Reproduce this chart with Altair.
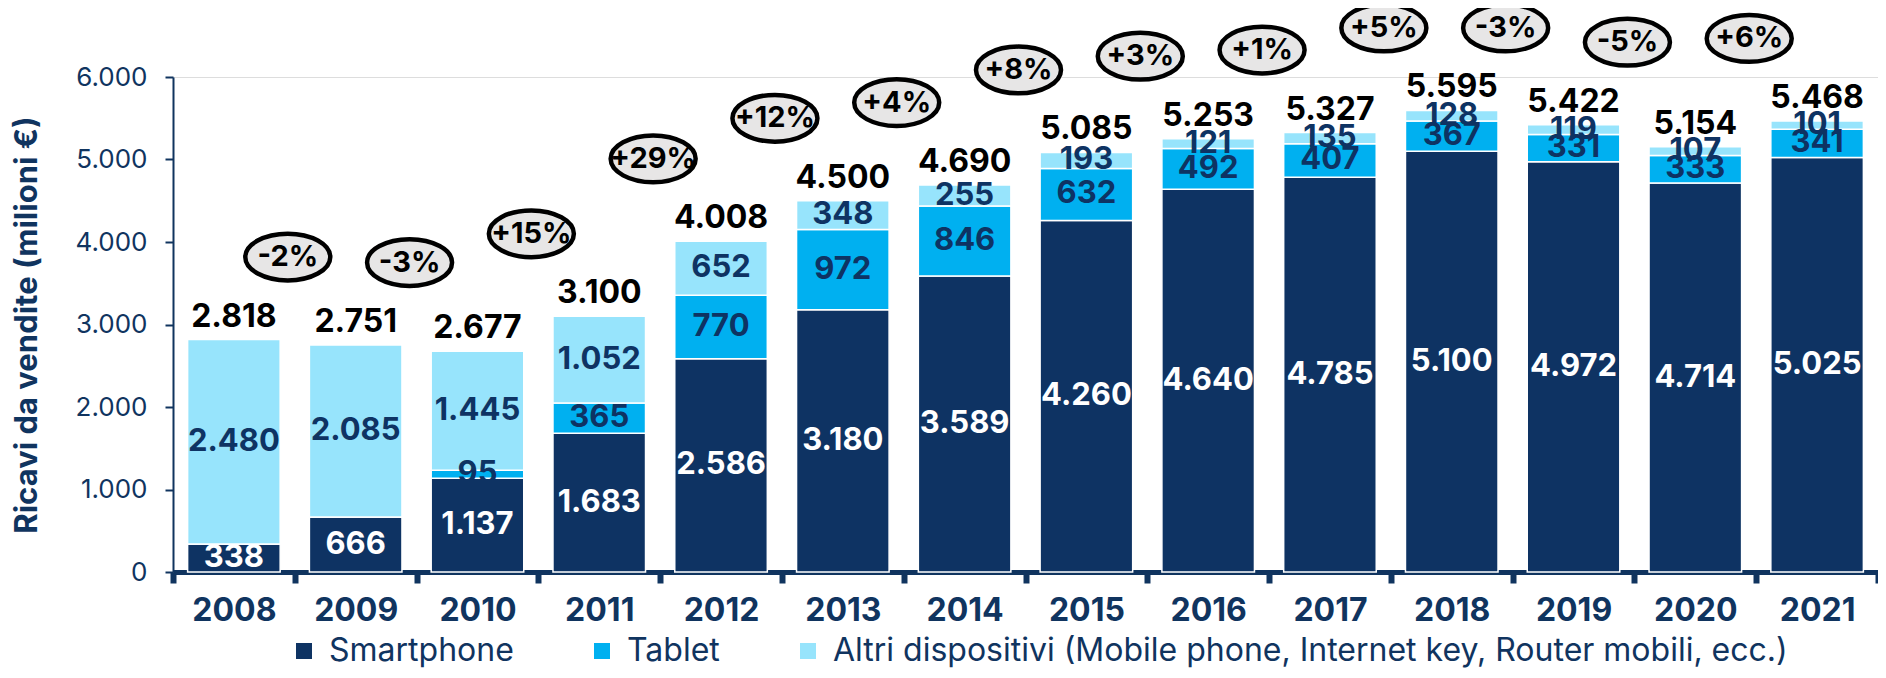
import altair as alt
import pandas as pd

years = ["2008", "2009", "2010", "2011", "2012", "2013", "2014",
         "2015", "2016", "2017", "2018", "2019", "2020", "2021"]
smartphone = [338, 666, 1137, 1683, 2586, 3180, 3589, 4260, 4640, 4785, 5100, 4972, 4714, 5025]
tablet = [0, 0, 95, 365, 770, 972, 846, 632, 492, 407, 367, 331, 333, 341]
altri = [2480, 2085, 1445, 1052, 652, 348, 255, 193, 121, 135, 128, 119, 107, 101]
totals = [2818, 2751, 2677, 3100, 4008, 4500, 4690, 5085, 5253, 5327, 5595, 5422, 5154, 5468]
growth = ["-2%", "-3%", "+15%", "+29%", "+12%", "+4%", "+8%", "+3%", "+1%",
          "+5%", "-3%", "-5%", "+6%"]
series = ["Smartphone", "Tablet",
          "Altri dispositivi (Mobile phone, Internet key, Router mobili, ecc.)"]
colors = ["#0E3363", "#00B0F0", "#97E4FC"]
label_colors = ["#FFFFFF", "#0E3363", "#0E3363"]

NAVY = "#10345F"
FONT = "Inter"


def it(n):
    return f"{n:,}".replace(",", ".")


rows = []
for i, y in enumerate(years):
    base = 0
    for s, vals, lc in zip(series, [smartphone, tablet, altri], label_colors):
        v = vals[i]
        rows.append({"year": y, "series": s, "value": v, "y0": base, "y1": base + v,
                     "mid": base + v / 2, "label": it(v), "lcolor": lc})
        base += v
df = pd.DataFrame(rows)

df_tot = pd.DataFrame({"year": years, "total": totals, "label": [it(t) for t in totals]})

df_g = pd.DataFrame({
    "year": years[:-1],
    "text": growth,
    "level": [max(totals[i], totals[i + 1]) + 1000 for i in range(len(growth))],
})

x_enc = alt.X("year:N", sort=years,
              scale=alt.Scale(paddingInner=0, paddingOuter=0),
              axis=alt.Axis(title=None, labelAngle=0, labelFont=FONT, labelFontSize=32,
                            labelFontWeight="bold", labelColor=NAVY, labelPadding=12,
                            tickBand="extent", tickColor=NAVY, tickWidth=6, tickSize=11,
                            domainColor=NAVY, domainWidth=5))
y_title = "Ricavi da vendite (milioni €)"
y_scale = alt.Scale(domain=[0, 6000], nice=False, zero=True)

bars = alt.Chart(df).mark_bar(width=alt.RelativeBandSize(0.76), stroke="white",
                              strokeWidth=1.5).encode(
    x=x_enc,
    y=alt.Y("y0:Q", scale=y_scale, title=y_title,
            axis=alt.Axis(values=[0, 1000, 2000, 3000, 4000, 5000, 6000],
                          labelExpr="replace(format(datum.value, ','), ',', '.')",
                          grid=False, labelFont=FONT, labelFontSize=26, labelColor=NAVY,
                          labelPadding=18, tickColor=NAVY, tickWidth=2, tickSize=8,
                          domainColor=NAVY, domainWidth=2,
                          titleFont=FONT, titleFontSize=31, titleFontWeight="bold",
                          titleColor=NAVY, titleAngle=270, titleX=-146, titleY=247.5,
                          titleAlign="center", titleBaseline="middle")),
    y2="y1:Q",
    color=alt.Color("series:N", scale=alt.Scale(domain=series, range=colors),
                    legend=alt.Legend(title=None, orient="none", direction="horizontal",
                                      legendX=115, legendY=558, symbolType="square",
                                      symbolSize=256, symbolStrokeWidth=0,
                                      labelFont=FONT, labelFontSize=32, labelColor=NAVY,
                                      labelOffset=9, columnPadding=72,
                                      labelLimit=2000)),
)

seg_text = alt.Chart(df).transform_filter("datum.value > 0").mark_text(
    font=FONT, fontSize=31, fontWeight="bold", baseline="middle").encode(
    x=alt.X("year:N", sort=years),
    y=alt.Y("mid:Q", title=y_title),
    text="label:N",
    color=alt.Color("lcolor:N", scale=None),
)

tot_text = alt.Chart(df_tot).mark_text(
    font=FONT, fontSize=32, fontWeight="bold", baseline="alphabetic", dy=-13,
    color="#000000").encode(
    x=alt.X("year:N", sort=years),
    y=alt.Y("total:Q", title=y_title),
    text="label:N",
)

ELLIPSE = "M -1 0 A 1 0.55 0 1 0 1 0 A 1 0.55 0 1 0 -1 0 Z"
ellipses = alt.Chart(df_g).mark_point(
    shape=ELLIPSE, size=7225, filled=True, fill="#E7E6E6", stroke="#000000",
    strokeWidth=4.5, opacity=1, fillOpacity=1, xOffset=-7).encode(
    x=alt.X("year:N", sort=years, bandPosition=1),
    y=alt.Y("level:Q", title=y_title),
)
g_text = alt.Chart(df_g).mark_text(
    font=FONT, fontSize=29, fontWeight="bold", baseline="middle", dx=-7,
    color="#000000").encode(
    x=alt.X("year:N", sort=years, bandPosition=1),
    y=alt.Y("level:Q", title=y_title),
    text="text:N",
)

chart = alt.layer(bars, seg_text, tot_text, ellipses, g_text).properties(
    width=1705, height=495,
    autosize=alt.AutoSizeParams(type="none"),
    padding={"left": 165, "top": 69, "right": 0, "bottom": 98},
    background="white",
).configure_view(stroke=None).configure(font=FONT)

chart.save("out.html", embed_options={"renderer": "svg", "actions": False})
